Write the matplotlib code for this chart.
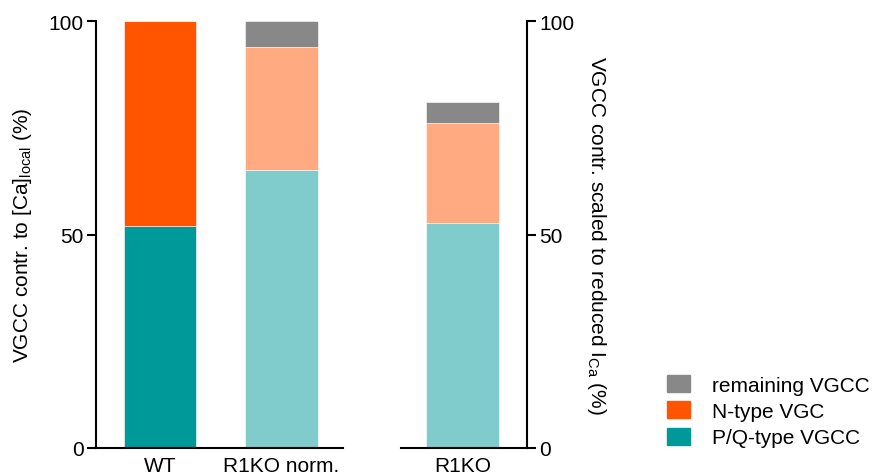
import matplotlib.pyplot as plt
from matplotlib.patches import Patch
import numpy as np

plt.rcParams['font.family'] = ['Liberation Sans', 'DejaVu Sans']

# datos
left_groups = ['WT', 'R1KO norm.']
left_pq = [52, 65]
left_n = [48, 29]
left_rem = [0, 6]

right_groups = ['R1KO']
right_pq = [52.6]
right_n = [23.5]
right_rem = [4.9]

legend_labels = ['remaining VGCC', 'N-type VGC', 'P/Q-type VGCC']

pq_dark, n_dark = '#009999', '#FF5500'
pq_light, n_light = '#80CCCC', '#FFAA80'
gray = '#888888'

fs = 15

fig = plt.figure(figsize=(8.74, 4.77), dpi=100)
ax1 = fig.add_axes([96/874, 1-449/477, 247/874, 427/477])
ax2 = fig.add_axes([401/874, 1-449/477, 126/874, 427/477])

w = 0.6
x1 = np.arange(len(left_groups))
pq_cols = [pq_dark, pq_light]
n_cols = [n_dark, n_light]
ax1.bar(x1, left_pq, w, color=pq_cols, edgecolor='white', linewidth=0.4)
ax1.bar(x1, left_n, w, bottom=left_pq, color=n_cols, edgecolor='white', linewidth=0.4)
ax1.bar(x1, left_rem, w, bottom=np.add(left_pq, left_n), color=gray, edgecolor='white', linewidth=0.4)

x2 = np.arange(len(right_groups))
ax2.bar(x2, right_pq, w, color=pq_light, edgecolor='white', linewidth=0.4)
ax2.bar(x2, right_n, w, bottom=right_pq, color=n_light, edgecolor='white', linewidth=0.4)
ax2.bar(x2, right_rem, w, bottom=np.add(right_pq, right_n), color=gray, edgecolor='white', linewidth=0.4)

ax1.set_xlim(-0.53, 1.51)
ax2.set_xlim(-0.51, 0.53)
for ax in (ax1, ax2):
    ax.set_ylim(0, 100)
    ax.set_yticks([0, 50, 100])
    ax.spines['top'].set_visible(False)
    for s in ax.spines.values():
        s.set_linewidth(1.5)
    ax.tick_params(axis='y', width=1.5, length=6.5, labelsize=fs, pad=2.5)
    ax.tick_params(axis='x', length=0, labelsize=fs, pad=6)

ax1.spines['right'].set_visible(False)
ax1.set_xticks(x1)
ax1.set_xticklabels(left_groups)
ax1.set_ylabel('VGCC contr. to [Ca]$_{\\mathregular{local}}$ (%)', fontsize=fs, labelpad=10)

ax2.spines['left'].set_visible(False)
ax2.yaxis.tick_right()
ax2.yaxis.set_label_position('right')
ax2.set_xticks(x2)
ax2.set_xticklabels(right_groups)
ax2.set_ylabel('VGCC contr. scaled to reduced I$_{\\mathregular{Ca}}$ (%)', fontsize=fs,
               rotation=270, labelpad=24)

handles = [Patch(color=gray), Patch(color=n_dark), Patch(color=pq_dark)]
fig.legend(handles, legend_labels, loc='upper left', bbox_to_anchor=(667/874, 1-376/477),
           frameon=False, fontsize=fs, handlelength=1.1, handleheight=0.87,
           handletextpad=1.05, labelspacing=0.32, borderpad=0, borderaxespad=0)

plt.savefig('out.png', dpi=100)
